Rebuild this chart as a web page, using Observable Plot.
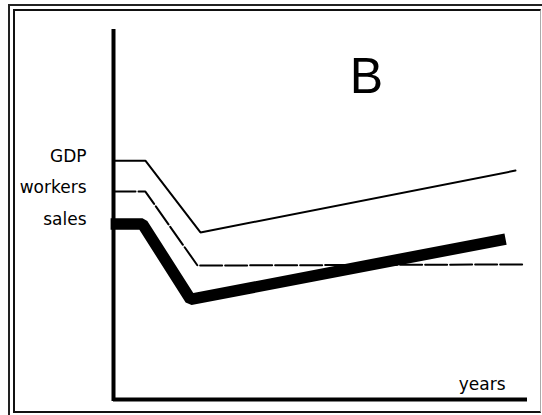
<!DOCTYPE html>
<html>
<head>
<meta charset="utf-8">
<script src="https://cdn.jsdelivr.net/npm/d3@7"></script>
<script src="https://cdn.jsdelivr.net/npm/@observablehq/plot@0.6"></script>
<style>
  html, body { margin: 0; padding: 0; background: white; }
  #wrap { position: relative; width: 542px; height: 415px; overflow: hidden; }
  #wrap svg { position: absolute; left: 0; top: 0; }
  .outer { position: absolute; left: 8px; top: 4px; right: 0; bottom: -10px;
           border-top: 2px solid #222; border-left: 2px solid #222; }
  .inner { position: absolute; left: 13px; top: 9px; width: 528px; height: 404px; box-sizing: border-box;
           border: 2px solid #111; border-right: 1px solid #aaa; }
</style>
</head>
<body>
<div id="wrap"></div>
<script>
// Series (abstract index values; x = time, y = level)
const seriesNames = ["GDP", "workers", "sales"];
const gdpX     = [0, 7.7, 21.0, 97.1];
const gdpY     = [64.9, 64.9, 45.4, 62.2];
const workersX = [0, 7.7, 20.3, 99.0];
const workersY = [56.5, 56.5, 36.4, 36.7];
const salesX   = [-0.7, 7.0, 18.6, 94.7];
const salesY   = [47.7, 47.7, 27.2, 43.6];
const panelLabel = "B";
const xAxisLabel = "years";

const toRows = (xs, ys) => xs.map((x, i) => ({x, y: ys[i]}));
const gdp = toRows(gdpX, gdpY);
const workers = toRows(workersX, workersY);
const sales = toRows(salesX, salesY);
const labels = [
  {name: seriesNames[0], x: gdpX[0], y: gdpY[0]},
  {name: seriesNames[1], x: workersX[0], y: workersY[0]},
  {name: seriesNames[2], x: salesX[0] + 0.7, y: salesY[0]}
];

const chart = Plot.plot({
  width: 542,
  height: 415,
  marginLeft: 113,
  marginRight: 15,
  marginTop: 31,
  marginBottom: 16,
  x: {domain: [0, 100], axis: null},
  y: {domain: [0, 100], axis: null},
  style: {background: "white", fontFamily: "DejaVu Sans"},
  marks: [
    Plot.line(gdp, {x: "x", y: "y", stroke: "black", strokeWidth: 2, strokeLinejoin: "miter"}),
    Plot.line(workers, {x: "x", y: "y", stroke: "black", strokeWidth: 2, strokeDasharray: "22,3", strokeLinejoin: "miter"}),
    Plot.line(sales, {x: "x", y: "y", stroke: "black", strokeWidth: 11.5, strokeLinejoin: "miter", strokeLinecap: "butt"}),
    Plot.ruleX([0], {stroke: "black", strokeWidth: 4, strokeLinecap: "square"}),
    Plot.ruleY([0], {stroke: "black", strokeWidth: 4}),
    Plot.text(labels, {x: "x", y: "y", text: "name", textAnchor: "end", dx: -27, dy: -4,
      fontSize: 17, fill: "black", fontFamily: "DejaVu Sans"}),
    Plot.text([panelLabel], {frameAnchor: "top", text: d => d, dx: 46, dy: 26, lineAnchor: "top",
      fontSize: 50, fill: "black", fontFamily: "Liberation Sans"}),
    Plot.text([xAxisLabel], {frameAnchor: "bottom-right", text: d => d, textAnchor: "end", dx: -22, dy: -10,
      lineAnchor: "bottom", fontSize: 17, fill: "black", fontFamily: "DejaVu Sans"})
  ]
});

const wrap = document.getElementById("wrap");
wrap.appendChild(chart);
const o = document.createElement("div"); o.className = "outer"; wrap.appendChild(o);
const i = document.createElement("div"); i.className = "inner"; wrap.appendChild(i);
</script>
</body>
</html>
